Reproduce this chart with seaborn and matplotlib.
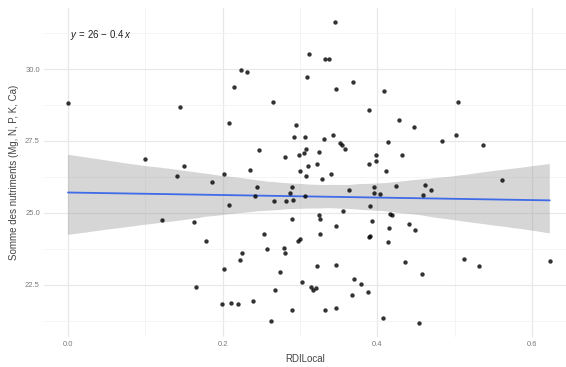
import numpy as np
import pandas as pd
import matplotlib
matplotlib.use("Agg")
import matplotlib.pyplot as plt
import seaborn as sns
from matplotlib.ticker import MultipleLocator, FormatStrFormatter
from matplotlib.collections import PolyCollection

# RDI local index and summed nutrient content (Mg, N, P, K, Ca)
rdi_local = [
    0.000, 0.145, 0.100, 0.150, 0.141, 0.122, 0.163, 0.165, 0.345, 0.312,
    0.332, 0.337, 0.224, 0.231, 0.309, 0.215, 0.368, 0.346, 0.409, 0.265,
    0.389, 0.208, 0.295, 0.504, 0.428, 0.447, 0.292, 0.306, 0.343, 0.331,
    0.352, 0.354, 0.308, 0.358, 0.247, 0.324, 0.305, 0.299, 0.281, 0.414,
    0.398, 0.398, 0.389, 0.322, 0.310, 0.235, 0.300, 0.202, 0.340, 0.308,
    0.411, 0.328, 0.186, 0.244, 0.290, 0.396, 0.363, 0.396, 0.403, 0.287,
    0.242, 0.306, 0.291, 0.282, 0.266, 0.208, 0.390, 0.356, 0.324, 0.326,
    0.290, 0.393, 0.346, 0.415, 0.253, 0.326, 0.390, 0.389, 0.178, 0.300,
    0.297, 0.257, 0.279, 0.414, 0.502, 0.484, 0.537, 0.432, 0.561, 0.424,
    0.462, 0.469, 0.459, 0.416, 0.419, 0.441, 0.449, 0.436, 0.458, 0.512,
    0.531, 0.623, 0.407, 0.454, 0.281, 0.225, 0.222, 0.202, 0.322, 0.346,
    0.274, 0.370, 0.379, 0.303, 0.314, 0.321, 0.317, 0.268, 0.367, 0.388,
    0.239, 0.199, 0.211, 0.220, 0.290, 0.332, 0.346, 0.262,
]
somme_nutriments = [
    28.83, 28.69, 26.88, 26.63, 26.29, 24.76, 24.69, 22.43, 31.64, 30.53,
    30.36, 30.36, 29.97, 29.90, 29.73, 29.38, 29.56, 29.31, 29.24, 28.86,
    28.58, 28.13, 28.06, 28.86, 28.23, 27.99, 27.64, 27.64, 27.71, 27.57,
    27.43, 27.37, 27.23, 27.23, 27.19, 27.12, 27.09, 27.02, 26.95, 27.47,
    27.02, 26.81, 26.70, 26.70, 26.63, 26.50, 26.46, 26.36, 26.36, 26.29,
    26.46, 26.18, 26.08, 25.90, 25.90, 25.90, 25.80, 25.70, 25.66, 25.70,
    25.59, 25.59, 25.45, 25.42, 25.42, 25.28, 25.24, 25.07, 24.93, 24.79,
    24.79, 24.72, 24.55, 24.48, 24.27, 24.27, 24.20, 24.17, 24.03, 24.10,
    24.03, 23.75, 23.78, 23.99, 27.71, 27.50, 27.37, 27.02, 26.15, 25.94,
    25.97, 25.80, 25.63, 24.97, 24.93, 24.62, 24.41, 23.30, 22.88, 23.40,
    23.16, 23.33, 21.35, 21.17, 23.61, 23.61, 23.37, 23.05, 23.16, 23.19,
    22.95, 22.70, 22.53, 22.60, 22.43, 22.39, 22.32, 22.32, 22.15, 22.25,
    21.94, 21.83, 21.87, 21.83, 21.63, 21.63, 21.70, 21.24,
]

sns.set_theme(style="white")
plt.rcParams["font.family"] = ["Liberation Sans", "DejaVu Sans"]
plt.rcParams["mathtext.fontset"] = "custom"
plt.rcParams["mathtext.rm"] = "Liberation Sans"
plt.rcParams["mathtext.it"] = "Liberation Sans:italic"

df = pd.DataFrame({"RDILocal": rdi_local, "Somme": somme_nutriments})

fig = plt.figure(figsize=(5.66, 3.67), dpi=100)
ax = fig.add_axes([44 / 566, 30 / 367, 522 / 566, 329 / 367])

sns.regplot(
    data=df, x="RDILocal", y="Somme", ax=ax, ci=95, n_boot=2000, seed=7,
    scatter_kws=dict(s=10, color="black", linewidths=0, zorder=4),
    line_kws=dict(color="#3F6AE8", lw=1.3, zorder=3),
)

# grey confidence ribbon as in ggplot's geom_smooth
for coll in ax.collections:
    if isinstance(coll, PolyCollection):
        coll.set_facecolor("#999999")
        coll.set_alpha(0.4)
        coll.set_edgecolor("none")
        coll.set_zorder(2)

slope, intercept = np.polyfit(df["RDILocal"], df["Somme"], 1)
sign = "-" if slope < 0 else "+"
ax.text(0.05, 0.94, rf"$y\,=\,{intercept:.0f}\,{sign}\,{abs(slope):.1f}\,x$",
        transform=ax.transAxes, ha="left", va="top", fontsize=7, color="#222222")

ax.set_xlim(-0.031, 0.644)
ax.set_ylim(20.69, 32.12)
ax.xaxis.set_major_locator(MultipleLocator(0.2))
ax.xaxis.set_minor_locator(MultipleLocator(0.1))
ax.yaxis.set_major_locator(MultipleLocator(2.5))
ax.yaxis.set_minor_locator(MultipleLocator(1.25))
ax.xaxis.set_major_formatter(FormatStrFormatter("%.1f"))
ax.yaxis.set_major_formatter(FormatStrFormatter("%.1f"))
ax.grid(which="major", color="#E8E8E8", lw=0.9)
ax.grid(which="minor", color="#F2F2F2", lw=0.6)
ax.set_axisbelow(True)
for sp in ax.spines.values():
    sp.set_visible(False)
ax.tick_params(which="both", length=0, labelsize=5.5, labelcolor="#7a7a7a", pad=3)

ax.set_xlabel("RDILocal", fontsize=7, color="#444444", labelpad=4)
ax.set_ylabel("Somme des nutriments (Mg, N, P, K, Ca)", fontsize=7, color="#444444", labelpad=4)

fig.savefig("out.png", dpi=100, facecolor="white")
